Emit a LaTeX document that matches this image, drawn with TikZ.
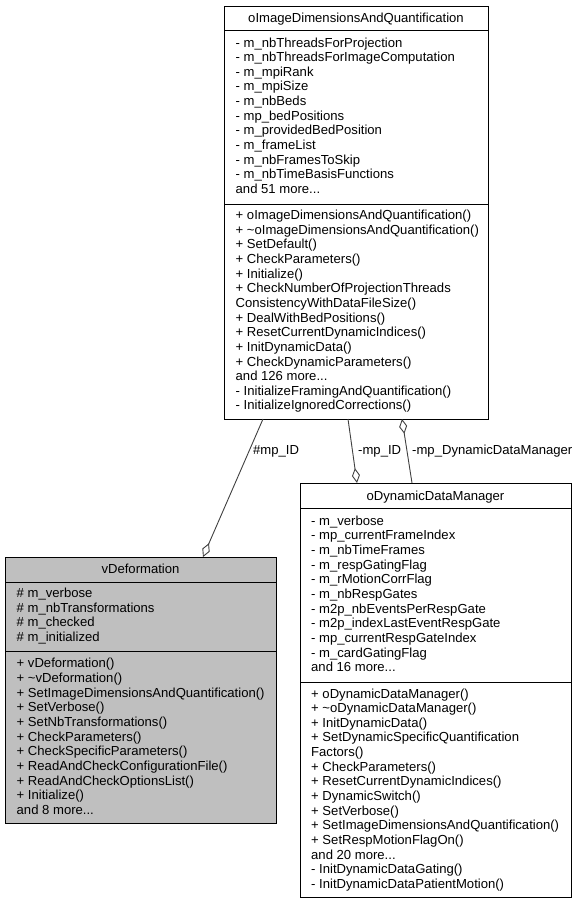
\documentclass[tikz,border=0pt]{standalone}
\usepackage{fontspec}
\setmainfont{Liberation Sans}
\usetikzlibrary{arrows.meta}
\newcommand\dfont{\fontsize{13.1}{14.65}\selectfont}
\newcommand\tdots{...}
\definecolor{edgegray}{HTML}{404040}
\definecolor{boxgray}{HTML}{BFBFBF}
\tikzset{
  umlbox/.style={draw=black, line width=1pt, anchor=north west, inner sep=0pt, outer sep=0pt},
  ln/.style={font=\dfont, anchor=base west, inner sep=0pt},
  ttl/.style={font=\dfont, anchor=base, inner sep=0pt},
  sep/.style={draw=black, line width=1pt},
  edge/.style={draw=edgegray, line width=0.9pt},
  aggend/.style={edge, -{Diamond[open, length=15pt, width=8pt, line width=0.9pt]}},
  elabel/.style={font=\dfont, anchor=base west, inner sep=0pt},
}
% \sect{prefix}{x}{first centre y}{list}
\newcommand\sect[4]{%
  \foreach \l [count=\i] in {#4} {
    \node[ln] (#1-\i) at (#2, {#3 + 4.5 + (\i-1)*14.65}) {\l};
  }%
}
\begin{document}
\begin{tikzpicture}[x=1pt, y=-1pt]
\useasboundingbox (0,0) rectangle (577,903);
\fill[white] (0,0) rectangle (577,903);

% ---------- oImageDimensionsAndQuantification ----------
\node[umlbox, minimum width=264pt, minimum height=413pt] (img) at (224,6) {};
\draw[sep] (224,30) -- (488,30);
\draw[sep] (224,204) -- (488,204);
\node[ttl] (imgtitle) at (356,22.5) {oImageDimensionsAndQuantification};
\sect{imga}{235.5}{42.5}{%
  - m\_nbThreadsForProjection,
  - m\_nbThreadsForImageComputation,
  - m\_mpiRank,
  - m\_mpiSize,
  - m\_nbBeds,
  - mp\_bedPositions,
  - m\_providedBedPosition,
  - m\_frameList,
  - m\_nbFramesToSkip,
  - m\_nbTimeBasisFunctions,
  and 51 more\tdots}
\sect{imgm}{235.5}{215}{%
  + oImageDimensionsAndQuantification(),
  + \textasciitilde oImageDimensionsAndQuantification(),
  + SetDefault(),
  + CheckParameters(),
  + Initialize(),
  + CheckNumberOfProjectionThreads,
  ConsistencyWithDataFileSize(),
  + DealWithBedPositions(),
  + ResetCurrentDynamicIndices(),
  + InitDynamicData(),
  + CheckDynamicParameters(),
  and 126 more\tdots,
  - InitializeFramingAndQuantification(),
  - InitializeIgnoredCorrections()}

% ---------- vDeformation ----------
\node[umlbox, fill=boxgray, minimum width=271pt, minimum height=266pt] (vdef) at (5,557) {};
\draw[sep] (5,582) -- (276,582);
\draw[sep] (5,651) -- (276,651);
\node[ttl] (vdeftitle) at (140.5,573.5) {vDeformation};
\sect{vdefa}{16.5}{593}{%
  \# m\_verbose,
  \# m\_nbTransformations,
  \# m\_checked,
  \# m\_initialized}
\sect{vdefm}{16.5}{663.3}{%
  + vDeformation(),
  + \textasciitilde vDeformation(),
  + SetImageDimensionsAndQuantification(),
  + SetVerbose(),
  + SetNbTransformations(),
  + CheckParameters(),
  + CheckSpecificParameters(),
  + ReadAndCheckConfigurationFile(),
  + ReadAndCheckOptionsList(),
  + Initialize(),
  and 8 more\tdots}

% ---------- oDynamicDataManager ----------
\node[umlbox, minimum width=271pt, minimum height=414pt] (dyn) at (300,483) {};
\draw[sep] (300,508) -- (571,508);
\draw[sep] (300,682) -- (571,682);
\node[ttl] (dyntitle) at (435.5,500) {oDynamicDataManager};
\sect{dyna}{311}{520.7}{%
  - m\_verbose,
  - mp\_currentFrameIndex,
  - m\_nbTimeFrames,
  - m\_respGatingFlag,
  - m\_rMotionCorrFlag,
  - m\_nbRespGates,
  - m2p\_nbEventsPerRespGate,
  - m2p\_indexLastEventRespGate,
  - mp\_currentRespGateIndex,
  - m\_cardGatingFlag,
  and 16 more\tdots}
\sect{dynm}{311}{693.5}{%
  + oDynamicDataManager(),
  + \textasciitilde oDynamicDataManager(),
  + InitDynamicData(),
  + SetDynamicSpecificQuantification,
  Factors(),
  + CheckParameters(),
  + ResetCurrentDynamicIndices(),
  + DynamicSwitch(),
  + SetVerbose(),
  + SetImageDimensionsAndQuantification(),
  + SetRespMotionFlagOn(),
  and 20 more\tdots,
  - InitDynamicDataGating(),
  - InitDynamicDataPatientMotion()}

% ---------- connectors ----------
\draw[aggend] ([xshift=-93pt]img.south) -- ([xshift=62.5pt]vdef.north);
\draw[aggend] ([xshift=-8pt]img.south) -- ([xshift=-78.5pt]dyn.north);
\draw[aggend] ([xshift=-23.5pt]dyn.north) -- ([xshift=46pt]img.south);
\node[elabel] (l1) at (253,454.5) {\#mp\_ID};
\node[elabel] (l2) at (358,454.5) {-mp\_ID};
\node[elabel] (l3) at (412,454.5) {-mp\_DynamicDataManager};
\end{tikzpicture}
\end{document}
